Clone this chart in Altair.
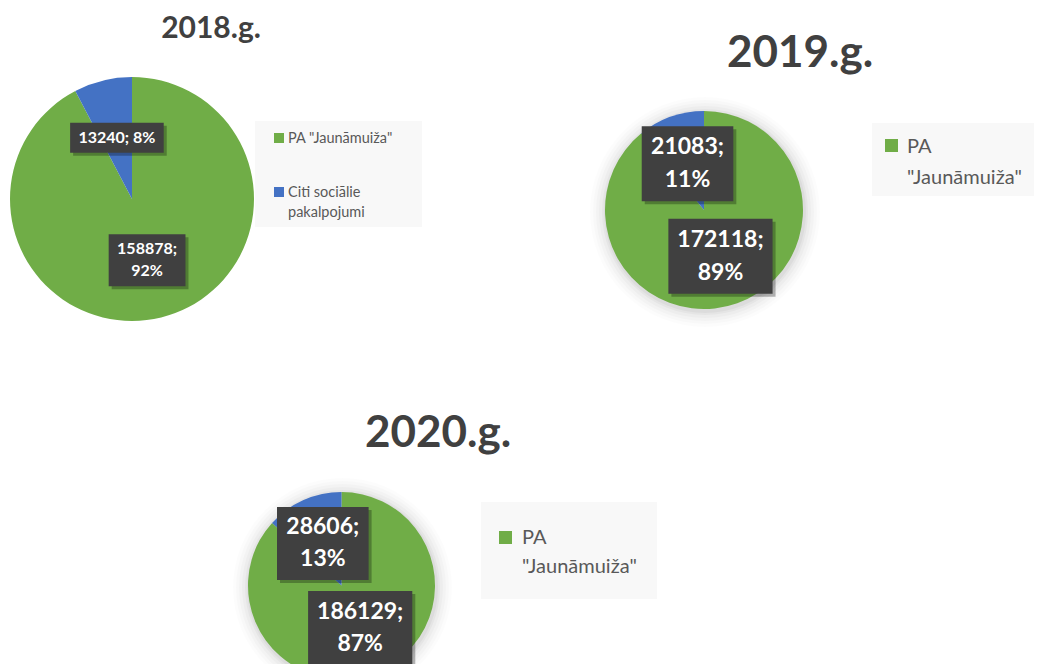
import textwrap
import altair as alt
import pandas as pd

# ---- data -------------------------------------------------------------
years = ["2018.g.", "2019.g.", "2020.g."]
categories = ['PA "Jaunāmuiža"', "Citi sociālie pakalpojumi"]
pa_values = [158878, 172118, 186129]
citi_values = [13240, 21083, 28606]
colors = ["#70AD47", "#4472C4"]

# ---- layout (screen pixels, page margin removed below) -----------------
M = 8
layout = [
    dict(cx=132, cy=199, r=122, lr=63, fs=16, lh=22, cw=8.4, padx=9, pady=8,
         tx=211, ty=38, tfs=30, box=(255, 121, 422, 227), sqx=274, sqy=133, sq=10,
         ltx=288, lty=143, lfs=14.5, llh=20, step=54, wrap=15, shown=2,
         labwrap=[True, False], halo=False),
    dict(cx=704, cy=210, r=99, lr=49, fs=23, lh=33, cw=12.6, padx=8, pady=9,
         tx=800, ty=67, tfs=44, box=(872, 123, 1050, 196), sqx=885, sqy=139, sq=13,
         ltx=907, lty=153, lfs=20, llh=31, step=60, wrap=12, shown=1,
         labwrap=[True, True], halo=True),
    dict(cx=341.5, cy=585.5, r=93.5, lr=46, fs=23, lh=32, cw=12.6, padx=8, pady=9,
         tx=438, ty=447, tfs=44, box=(481, 502, 657, 599), sqx=499, sqy=531, sq=13,
         ltx=522, lty=544, lfs=20, llh=29, step=60, wrap=12, shown=1,
         labwrap=[True, True], halo=True),
]

FONT = "Lato"
theta_scale = alt.Scale(domain=[0, 1])
color_scale = alt.Scale(domain=categories, range=colors)

layers = []
for i, year in enumerate(years):
    L = layout[i]
    cx, cy = L["cx"] - M, L["cy"] - M
    vals = [pa_values[i], citi_values[i]]
    total = sum(vals)
    pcts = [round(v * 100 / total) for v in vals]
    labels = [f"{v};" + ("\n" if w else " ") + f"{p}%"
              for v, p, w in zip(vals, pcts, L["labwrap"])]
    df = pd.DataFrame(dict(
        cat=categories, idx=[0, 1], value=vals, label=labels,
        nlines=[lab.count("\n") + 1 for lab in labels],
        nchars=[max(len(s) for s in lab.split("\n")) for lab in labels],
    ))

    # soft halo behind pie
    if L["halo"]:
        for k, op in [(16, 0.012), (13, 0.016), (10, 0.02), (7, 0.025),
                      (4, 0.03), (2, 0.035)]:
            layers.append(
                alt.Chart(pd.DataFrame({"a": [0]}))
                .mark_arc(radius=L["r"] + k, theta=0, theta2=6.2832,
                          color="#000000", opacity=op)
                .encode(x=alt.value(cx + 1), y=alt.value(cy + 2))
            )

    base = (alt.Chart(df)
            .transform_joinaggregate(total="sum(value)")
            .transform_calculate(frac="datum.value / datum.total"))

    pie = base.mark_arc(radius=L["r"]).encode(
        theta=alt.Theta("frac:Q", stack=True, scale=theta_scale),
        color=alt.Color("cat:N", scale=color_scale, legend=None),
        order=alt.Order("idx:Q"),
        x=alt.value(cx), y=alt.value(cy),
    )
    layers.append(pie)

    lab = (base
           .transform_stack(stack="frac", groupby=[], as_=["s0", "s1"],
                            sort=[alt.SortField("idx")])
           .transform_calculate(
               lx=f"{cx} + {L['lr']} * sin(PI * (datum.s0 + datum.s1))",
               ly=f"{cy} - {L['lr']} * cos(PI * (datum.s0 + datum.s1))",
               bw=f"datum.nchars * {L['cw']} + {2 * L['padx']}",
               bh=f"datum.nlines * {L['lh']} + {L['pady']}",
           )
           .transform_calculate(
               ty=f"datum.ly - (datum.nlines - 1) * {L['lh']} / 2",
               x0="datum.lx - datum.bw / 2", x1="datum.lx + datum.bw / 2",
               y0="datum.ly - datum.bh / 2", y1="datum.ly + datum.bh / 2",
               sx0="datum.lx - datum.bw / 2 + 3", sx1="datum.lx + datum.bw / 2 + 3",
               sy0="datum.ly - datum.bh / 2 + 3", sy1="datum.ly + datum.bh / 2 + 3",
           ))
    shadow = lab.mark_rect(color="#000000", opacity=0.28).encode(
        x=alt.X("sx0:Q", scale=None, axis=None), x2="sx1:Q",
        y=alt.Y("sy0:Q", scale=None, axis=None), y2="sy1:Q",
    )
    boxes = lab.mark_rect(color="#404040").encode(
        x=alt.X("x0:Q", scale=None, axis=None), x2="x1:Q",
        y=alt.Y("y0:Q", scale=None, axis=None), y2="y1:Q",
    )
    texts = lab.mark_text(
        font=FONT, fontWeight="bold", fontSize=L["fs"], lineHeight=L["lh"],
        lineBreak="\n", color="#FFFFFF", align="center", baseline="middle",
    ).encode(
        x=alt.X("lx:Q", scale=None, axis=None),
        y=alt.Y("ty:Q", scale=None, axis=None),
        text="label:N",
    )
    layers += [shadow, boxes, texts]

    # title
    layers.append(
        alt.Chart(pd.DataFrame({"t": [year]}))
        .mark_text(font=FONT, fontWeight="bold", fontSize=L["tfs"],
                   color="#404040", align="center", baseline="alphabetic")
        .encode(text="t:N", x=alt.value(L["tx"] - M), y=alt.value(L["ty"] - M))
    )

    # legend
    bx0, by0, bx1, by1 = L["box"]
    layers.append(
        alt.Chart(pd.DataFrame({"a": [0]}))
        .mark_rect(color="#F8F8F8")
        .encode(x=alt.value(bx0 - M), x2=alt.value(bx1 - M),
                y=alt.value(by0 - M), y2=alt.value(by1 - M))
    )
    leg = pd.DataFrame(dict(
        cat=categories, idx=[0, 1],
        txt=["\n".join(textwrap.wrap(c, L["wrap"])) for c in categories],
    ))
    legbase = (alt.Chart(leg)
               .transform_filter(f"datum.idx < {L['shown']}")
               .transform_calculate(
                   sx0=f"{L['sqx'] - M}", sx1=f"{L['sqx'] - M + L['sq']}",
                   sy0=f"{L['sqy'] - M} + datum.idx * {L['step']}",
                   sy1=f"{L['sqy'] - M + L['sq']} + datum.idx * {L['step']}",
                   ty=f"{L['lty'] - M} + datum.idx * {L['step']}",
               ))
    layers.append(
        legbase.mark_rect().encode(
            x=alt.X("sx0:Q", scale=None, axis=None), x2="sx1:Q",
            y=alt.Y("sy0:Q", scale=None, axis=None), y2="sy1:Q",
            color=alt.Color("cat:N", scale=color_scale, legend=None),
        )
    )
    layers.append(
        legbase.mark_text(font=FONT, fontSize=L["lfs"], lineHeight=L["llh"],
                          lineBreak="\n", color="#595959", align="left",
                          baseline="alphabetic")
        .encode(x=alt.value(L["ltx"] - M),
                y=alt.Y("ty:Q", scale=None, axis=None),
                text="txt:N")
    )

chart = (
    alt.layer(*layers)
    .properties(width=1026, height=656, padding=0, autosize="none",
                background="#FFFFFF")
    .configure_view(stroke=None)
)

chart.save("out.html", embed_options={"renderer": "svg", "actions": False})
